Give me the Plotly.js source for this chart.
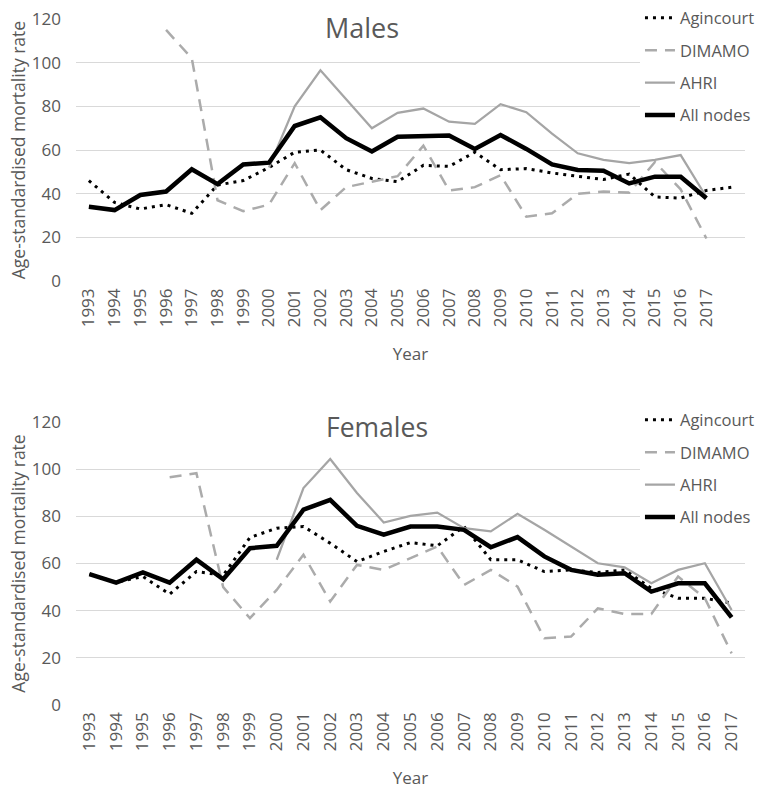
<!DOCTYPE html>
<html>
<head>
<meta charset="utf-8">
<script src="https://cdn.plot.ly/plotly-3.0.1.min.js"></script>
<style>html,body{margin:0;padding:0;background:#fff}</style>
</head>
<body>
<div id="chart" style="width:760px;height:792px"></div>
<script>
var years = [1993, 1994, 1995, 1996, 1997, 1998, 1999, 2000, 2001, 2002, 2003, 2004, 2005,
  2006, 2007, 2008, 2009, 2010, 2011, 2012, 2013, 2014, 2015, 2016, 2017];
// the Agincourt series on the males panel runs one point past 2017
var yearsMalesAgincourt = years.concat([2018]);

// Males
var malesAgincourt = [46, 36, 33, 35, 31, 44, 46, 52, 59, 60, 51, 47, 45.5, 53, 52.5, 59,
  51, 51.5, 49.5, 48, 46.5, 49, 38.5, 38, 41.5, 43];
var malesDimamo = [null, null, null, 115, 102, 37, 32, 35, 54, 32.5, 43, 45.5, 48, 62, 41.5,
  43, 48.5, 29.5, 31, 40, 41, 40.5, 54.5, 42, 19.5];
var malesAhri = [null, null, null, null, null, null, null, 52, 80, 96.5, 83, 70, 77, 79, 73,
  72, 81, 77.3, 67.5, 58.5, 55.5, 54, 55.5, 57.7, 38.5];
var malesAll = [34, 32.5, 39.4, 41, 51.2, 44.4, 53.4, 54.2, 71, 75, 65.4, 59.3, 66.1, 66.6,
  66.6, 60.5, 66.9, 60.5, 53.4, 50.9, 50.5, 44.7, 47.8, 47.8, 37.9];

// Females
var femalesAgincourt = [55.5, 52, 54.5, 47, 56.6, 55, 71, 75, 75.7, 68.6, 60.8, 65.1, 68.9,
  67.5, 75.7, 61.6, 61.6, 56.6, 57.3, 56.2, 57.3, 49.5, 45.3, 45.3, 43.2];
var femalesDimamo = [null, null, null, 96.6, 98.3, 50, 36.8, 48.8, 63.7, 43.9, 59.4, 57.3,
  62.3, 67.2, 50.9, 57.3, 50.2, 28.3, 29, 41, 38.6, 38.6, 54.5, 45.3, 21.9];
var femalesAhri = [null, null, null, null, null, null, null, 61.6, 92, 104.3, 89.9, 77.4,
  80.2, 81.6, 75, 73.6, 81.1, 74.3, 67.2, 60.1, 58.4, 51.6, 57.3, 60.1, 40.3];
var femalesAll = [55.5, 51.9, 56.2, 51.9, 61.6, 53.3, 66.5, 67.5, 82.8, 87, 76, 72.2, 75.7,
  75.7, 74.3, 66.9, 71.2, 63, 57.3, 55.2, 55.9, 48.1, 51.6, 51.6, 37.2];

var seriesNames = ['Agincourt', 'DIMAMO', 'AHRI', 'All nodes'];
var lineStyles = [
  {color: '#000000', width: 3, dash: '3px,5px'},
  {color: '#ababab', width: 2.5, dash: '12px,8px'},
  {color: '#a5a5a5', width: 2.25},
  {color: '#000000', width: 4.5}
];

function makeTrace(i, x, y, xa, ya, legend) {
  return {
    x: x,
    y: y,
    type: 'scatter',
    mode: 'lines',
    name: seriesNames[i],
    legendgroup: legend + i,
    legend: legend,
    line: lineStyles[i],
    xaxis: xa,
    yaxis: ya,
    hoverinfo: 'none'
  };
}

var data = [
  makeTrace(0, yearsMalesAgincourt, malesAgincourt, 'x', 'y', 'legend'),
  makeTrace(1, years, malesDimamo, 'x', 'y', 'legend'),
  makeTrace(2, years, malesAhri, 'x', 'y', 'legend'),
  makeTrace(3, years, malesAll, 'x', 'y', 'legend'),
  makeTrace(0, years, femalesAgincourt, 'x2', 'y2', 'legend2'),
  makeTrace(1, years, femalesDimamo, 'x2', 'y2', 'legend2'),
  makeTrace(2, years, femalesAhri, 'x2', 'y2', 'legend2'),
  makeTrace(3, years, femalesAll, 'x2', 'y2', 'legend2')
];

var textColor = '#595959';
var gridColor = '#d9d9d9';

function xAxis(range, anchor) {
  return {
    anchor: anchor,
    domain: [0, 1],
    range: range,
    tickvals: years,
    ticktext: years.map(String),
    tickangle: -90,
    showgrid: false,
    showline: false,
    zeroline: false,
    ticks: '',
    ticklabelstandoff: 3,
    tickfont: {size: 17, color: textColor},
    title: {text: 'Year', font: {size: 17, color: textColor}, standoff: 21}
  };
}

function yAxis(domain, anchor) {
  return {
    anchor: anchor,
    domain: domain,
    range: [0, 120],
    tickvals: [0, 20, 40, 60, 80, 100, 120],
    showgrid: true,
    gridcolor: gridColor,
    gridwidth: 1,
    zeroline: false,
    showline: false,
    ticks: '',
    ticklabelstandoff: 14,
    tickfont: {size: 17, color: textColor},
    title: {text: 'Age-standardised mortality rate', font: {size: 17.5, color: textColor}, standoff: 1}
  };
}

function legendBox(y, gap) {
  return {
    x: 0.843,
    xanchor: 'left',
    y: y,
    yanchor: 'top',
    bgcolor: '#ffffff',
    traceorder: 'grouped',
    tracegroupgap: gap,
    font: {size: 16.5, color: textColor}
  };
}

var layout = {
  width: 760,
  height: 792,
  margin: {l: 76, r: 15, t: 19, b: 87, autoexpand: false},
  paper_bgcolor: '#ffffff',
  plot_bgcolor: '#ffffff',
  font: {family: '"Open Sans", sans-serif', color: textColor},
  xaxis: xAxis([1992.5, 2018.5], 'y'),
  yaxis: yAxis([0.618, 1], 'x'),
  xaxis2: xAxis([1992.5, 2017.5], 'y2'),
  yaxis2: yAxis([0, 0.4125], 'x2'),
  legend: legendBox(1.027, 8),
  legend2: legendBox(0.441, 8),
  annotations: [
    {text: 'Males', xref: 'paper', yref: 'paper', x: 0.4275, y: 0.988,
      xanchor: 'center', yanchor: 'middle',
      showarrow: false, bgcolor: '#ffffff', borderpad: 6,
      font: {size: 27, color: textColor}},
    {text: 'Females', xref: 'paper', yref: 'paper', x: 0.45, y: 0.405,
      xanchor: 'center', yanchor: 'middle',
      showarrow: false, bgcolor: '#ffffff', borderpad: 6,
      font: {size: 26.5, color: textColor}}
  ]
};

Plotly.newPlot('chart', data, layout, {displayModeBar: false, staticPlot: true});
</script>
</body>
</html>
